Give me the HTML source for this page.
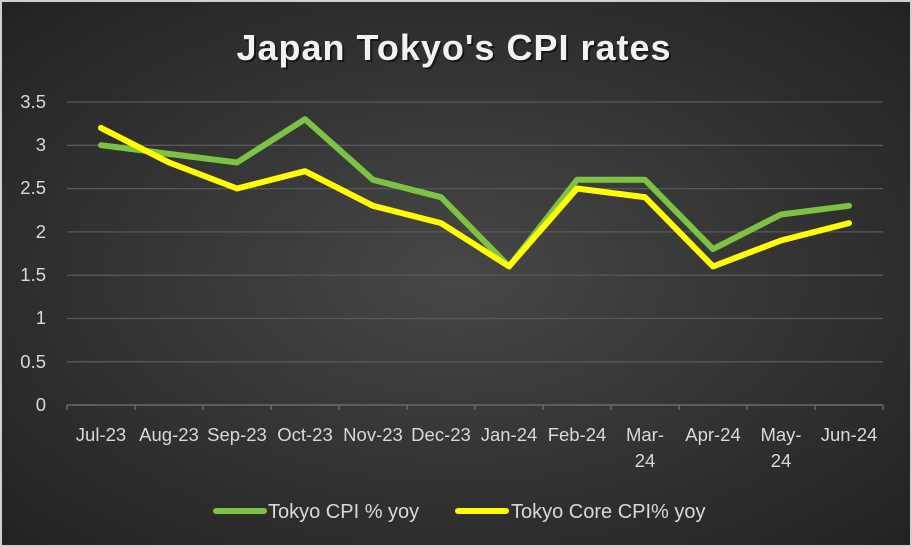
<!DOCTYPE html>
<html><head><style>
html,body{margin:0;padding:0;background:#fff;}
svg{display:block;}
text{font-family:"Liberation Sans",sans-serif;}
</style></head><body>
<svg width="912" height="547" viewBox="0 0 912 547" xmlns="http://www.w3.org/2000/svg">
<defs>
<radialGradient id="bg" cx="50%" cy="50%" r="70%">
<stop offset="0" stop-color="#474747"/>
<stop offset="1" stop-color="#222"/>
</radialGradient>
</defs>
<rect x="0" y="0" width="912" height="547" fill="#d0d0d0"/>
<rect x="2" y="2" width="908" height="543" fill="url(#bg)"/>
<text x="456" y="62" text-anchor="middle" font-size="36" font-weight="bold" fill="#000" opacity="0.5" letter-spacing="1">Japan Tokyo's CPI rates</text>
<text x="454" y="60" text-anchor="middle" font-size="36" font-weight="bold" fill="#f2f2f2" letter-spacing="1">Japan Tokyo's CPI rates</text>
<g stroke="#595959" stroke-width="1.3">
<line x1="67" y1="102" x2="883" y2="102"/>
<line x1="67" y1="145.3" x2="883" y2="145.3"/>
<line x1="67" y1="188.6" x2="883" y2="188.6"/>
<line x1="67" y1="231.9" x2="883" y2="231.9"/>
<line x1="67" y1="275.2" x2="883" y2="275.2"/>
<line x1="67" y1="318.5" x2="883" y2="318.5"/>
<line x1="67" y1="361.8" x2="883" y2="361.8"/>
</g>
<g stroke="#6a6a6a" stroke-width="1.5">
<line x1="67" y1="405" x2="883" y2="405"/>
<line x1="67" y1="405" x2="67" y2="410"/><line x1="135" y1="405" x2="135" y2="410"/><line x1="203" y1="405" x2="203" y2="410"/><line x1="271" y1="405" x2="271" y2="410"/><line x1="339" y1="405" x2="339" y2="410"/><line x1="407" y1="405" x2="407" y2="410"/><line x1="475" y1="405" x2="475" y2="410"/><line x1="543" y1="405" x2="543" y2="410"/><line x1="611" y1="405" x2="611" y2="410"/><line x1="679" y1="405" x2="679" y2="410"/><line x1="747" y1="405" x2="747" y2="410"/><line x1="815" y1="405" x2="815" y2="410"/><line x1="883" y1="405" x2="883" y2="410"/>
</g>
<g font-size="18.5" fill="#d9d9d9" text-anchor="end">
<text x="46" y="108">3.5</text><text x="46" y="151">3</text><text x="46" y="194">2.5</text><text x="46" y="238">2</text><text x="46" y="281">1.5</text><text x="46" y="324">1</text><text x="46" y="368">0.5</text><text x="46" y="411">0</text>
</g>
<g font-size="18.5" fill="#d9d9d9" text-anchor="middle">
<text x="101" y="441">Jul-23</text><text x="169" y="441">Aug-23</text><text x="237" y="441">Sep-23</text><text x="305" y="441">Oct-23</text><text x="373" y="441">Nov-23</text><text x="441" y="441">Dec-23</text><text x="509" y="441">Jan-24</text><text x="577" y="441">Feb-24</text><text x="645" y="441">Mar-</text><text x="645" y="467">24</text><text x="713" y="441">Apr-24</text><text x="781" y="441">May-</text><text x="781" y="467">24</text><text x="849" y="441">Jun-24</text>
</g>
<polyline fill="none" stroke="#7dc242" stroke-width="6" stroke-linejoin="round" stroke-linecap="round"
points="101,145.2 169,153.9 237,162.5 305,119.2 373,179.8 441,197.2 509,266.4 577,179.8 645,179.8 713,249.1 781,214.5 849,205.8"/>
<polyline fill="none" stroke="#ffff00" stroke-width="6" stroke-linejoin="round" stroke-linecap="round"
points="101,127.9 169,162.5 237,188.5 305,171.2 373,205.8 441,223.1 509,266.4 577,188.5 645,197.2 713,266.4 781,240.5 849,223.1"/>
<line x1="216" y1="511" x2="264" y2="511" stroke="#7dc242" stroke-width="6" stroke-linecap="round"/>
<text x="268" y="518" font-size="20" fill="#d9d9d9">Tokyo CPI % yoy</text>
<line x1="458" y1="511" x2="506" y2="511" stroke="#ffff00" stroke-width="6" stroke-linecap="round"/>
<text x="511" y="518" font-size="20" fill="#d9d9d9">Tokyo Core CPI% yoy</text>
</svg>
</body></html>
